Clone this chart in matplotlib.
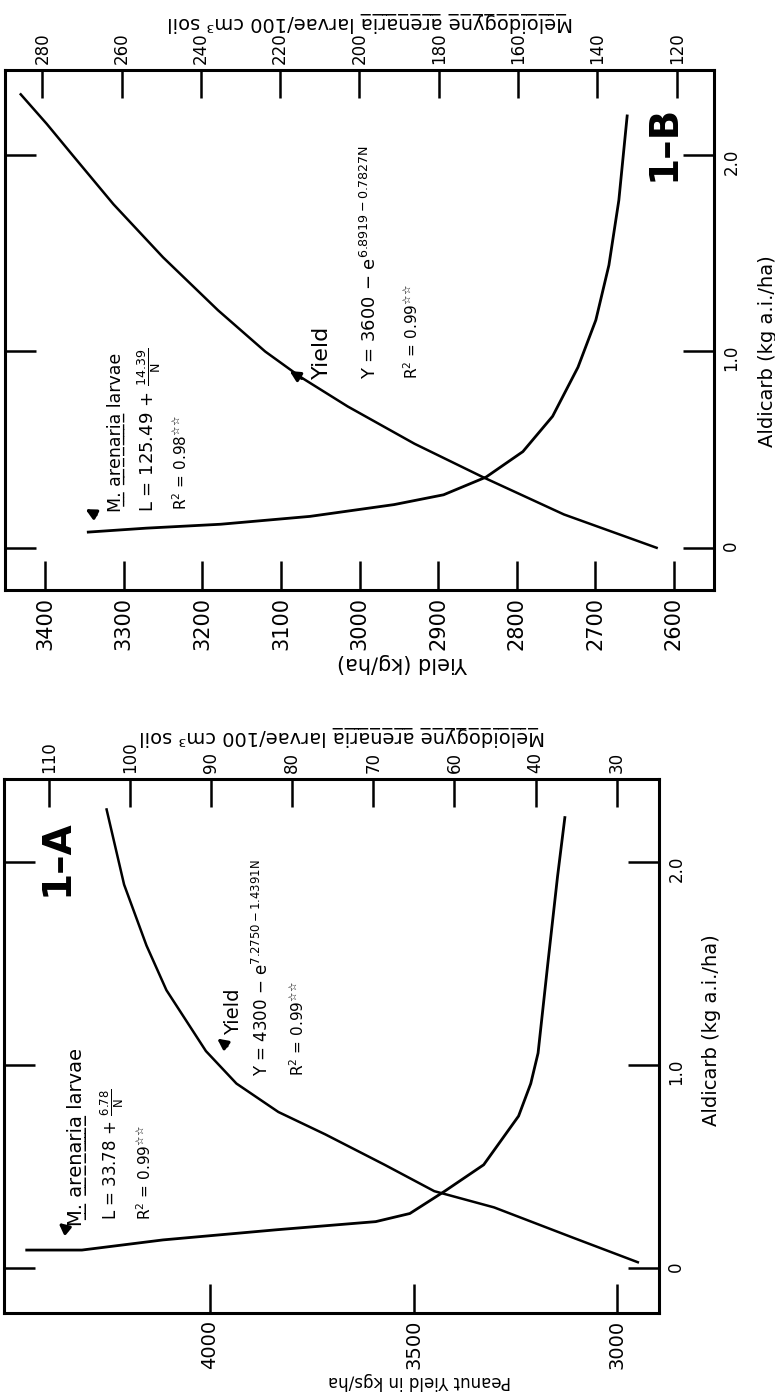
import numpy as np
import matplotlib.pyplot as plt

plt.rcParams['font.family'] = ['DejaVu Sans']
plt.rcParams['mathtext.fontset'] = 'dejavusans'
plt.rcParams['mathtext.default'] = 'regular'

# ---- panel 1-A ----
a_yield_ald = [0.03, 0.15, 0.30, 0.38, 0.51, 0.66, 0.77, 0.91, 1.07, 1.37, 1.59, 1.89, 2.26]
a_yield = [2949, 3107, 3302, 3449, 3571, 3717, 3832, 3935, 4010, 4107, 4156, 4211, 4254]
a_larv_ald = [0.09, 0.09, 0.14, 0.19, 0.23, 0.27, 0.38, 0.51, 0.75, 0.91, 1.06, 1.50, 1.93, 2.22]
a_larv = [102.7, 95.9, 85.9, 71.9, 59.7, 55.5, 51.2, 46.4, 42.1, 40.6, 39.7, 38.5, 37.3, 36.4]
a_yield_ticks = [4000, 3500, 3000]
a_larv_ticks = [100, 90, 80, 70, 60, 50, 40, 30]
a_larv_labels = ['110', '100', '90', '80', '70', '60', '40', '30']   # as printed

# ---- panel 1-B ----
b_yield_ald = [0.0, 0.17, 0.36, 0.53, 0.72, 0.87, 1.0, 1.21, 1.48, 1.75, 2.0, 2.16, 2.31]
b_yield = [2622, 2740, 2843, 2930, 3015, 3075, 3120, 3180, 3250, 3313, 3365, 3398, 3431]
b_larv_ald = [0.08, 0.10, 0.12, 0.16, 0.22, 0.27, 0.36, 0.49, 0.67, 0.92, 1.16, 1.44, 1.77, 2.20]
b_larv = [268.4, 253.8, 235.0, 212.5, 191.3, 178.8, 168.1, 158.8, 151.3, 144.9, 140.4, 137.1, 134.6, 132.5]
b_yield_ticks = [3400, 3300, 3200, 3100, 3000, 2900, 2800, 2700, 2600]
b_larv_ticks = [280, 260, 240, 220, 200, 180, 160, 140, 120]

ald_ticks = [0, 1, 2]
ald_labels = ['0', '1.0', '2.0']


def ul(s):
    return ''.join(c + '\u0332' if c != ' ' else c for c in s)


larv_label = ul('Meloidogyne') + ' ' + ul('arenaria') + ' larvae/100 cm\u00b3 soil'
star = '$^{\u2606\u2606}$'

fig = plt.figure(figsize=(7.75, 14), dpi=100)


def panel(rect, yld, yld_ald, lv, lv_ald, ylim, xlim, x2lim, yticks, lticks, llabels,
          ylab, ylab_size, lab_xy, l2_xy, a_xy, tsize):
    ax = fig.add_axes(rect)
    ax.plot(yld, yld_ald, color='k', lw=1.8)
    ax.set_xlim(*xlim)
    ax.set_ylim(*ylim)
    ax.set_xticks(yticks)
    ax.set_xticklabels([str(t) for t in yticks])
    ax.set_yticks(ald_ticks)
    ax.set_yticklabels(ald_labels)
    ax.tick_params(axis='x', direction='in', length=21, width=1.8, bottom=True, top=False,
                   labelsize=tsize, labelrotation=90, pad=5)
    ax.tick_params(axis='y', direction='in', length=22, width=1.8, left=True, right=True,
                   labelleft=False, labelright=True, labelsize=12, labelrotation=90, pad=6)
    for s in ax.spines.values():
        s.set_linewidth(2.2)
    ax.set_xlabel(ylab, rotation=180, fontsize=ylab_size)
    ax.xaxis.set_label_coords(*lab_xy)
    ax.yaxis.set_label_position('right')
    ax.set_ylabel('Aldicarb (kg a.i./ha)', fontsize=14)
    ax.yaxis.set_label_coords(*a_xy)

    ax2 = ax.twiny()
    ax2.plot(lv, lv_ald, color='k', lw=2.0)
    ax2.set_xlim(*x2lim)
    ax2.set_xticks(lticks)
    ax2.set_xticklabels(llabels)
    ax2.tick_params(axis='x', direction='in', length=20, width=1.8, top=True, bottom=False,
                    labelsize=12, labelrotation=90, pad=4)
    ax2.set_xlabel(larv_label, rotation=180, fontsize=14)
    ax2.xaxis.set_label_coords(*l2_xy)
    return ax


# 1-A
axA = panel([4 / 775, 87 / 1400, 655 / 775, 534 / 1400], a_yield, a_yield_ald, a_larv, a_larv_ald,
            (-0.22, 2.41), (4506, 2897), (105.5, 24.8), a_yield_ticks, a_larv_ticks, a_larv_labels,
            'Peanut Yield in kgs/ha', 12, (0.635, -0.11), (0.516, 1.071), (1.066, 0.53), 14)
# 1-B
axB = panel([5 / 775, 810 / 1400, 709 / 775, 520 / 1400], b_yield, b_yield_ald, b_larv, b_larv_ald,
            (-0.215, 2.434), (3451, 2549), (289.4, 110.6), b_yield_ticks, b_larv_ticks,
            [str(t) for t in b_larv_ticks],
            'Yield (kg/ha)', 15, (0.561, -0.122), (0.515, 1.083), (1.062, 0.46), 15)


def note(ax, x, y, s, size=11):
    ax.text(x, y, s, rotation=90, rotation_mode='anchor', ha='left', va='center',
            transform=ax.transAxes, fontsize=size)


def arrow(ax, tip, tail):
    ax.annotate('', xy=tip, xytext=tail, xycoords='axes fraction', textcoords='axes fraction',
                arrowprops=dict(arrowstyle='-|>', color='k', lw=2.2, mutation_scale=15))


# annotations 1-A
axA.text(0.081, 0.852, '1\u2013A', rotation=90, ha='center', va='center', transform=axA.transAxes,
         fontsize=28, fontweight='bold')
note(axA, 0.111, 0.163, ul('M.') + ' ' + ul('arenaria') + ' larvae', 14)
note(axA, 0.165, 0.174, 'L = 33.78 + $\\frac{6.78}{N}$', 12)
note(axA, 0.214, 0.174, 'R$^2$ = 0.99' + star, 11)
arrow(axA, (0.080, 0.172), (0.100, 0.152))
note(axA, 0.351, 0.521, 'Yield', 14)
note(axA, 0.394, 0.444, 'Y = 4300 \u2212 e$^{7.2750 - 1.4391N}$', 12)
note(axA, 0.449, 0.444, 'R$^2$ = 0.99' + star, 11)
arrow(axA, (0.322, 0.517), (0.344, 0.497))

# annotations 1-B
axB.text(0.929, 0.86, '1\u2013B', rotation=90, ha='center', va='center', transform=axB.transAxes,
         fontsize=28, fontweight='bold')
note(axB, 0.157, 0.15, ul('M.') + ' ' + ul('arenaria') + ' larvae', 12.5)
note(axB, 0.203, 0.15, 'L = 125.49 + $\\frac{14.39}{N}$', 13)
note(axB, 0.248, 0.154, 'R$^2$ = 0.98' + star, 11)
arrow(axB, (0.110, 0.158), (0.132, 0.142))
note(axB, 0.447, 0.406, 'Yield', 16)
note(axB, 0.515, 0.406, 'Y = 3600 \u2212 e$^{6.8919 - 0.7827N}$', 13)
note(axB, 0.573, 0.406, 'R$^2$ = 0.99' + star, 11)
arrow(axB, (0.398, 0.424), (0.422, 0.404))

fig.savefig('out.png', dpi=100)
